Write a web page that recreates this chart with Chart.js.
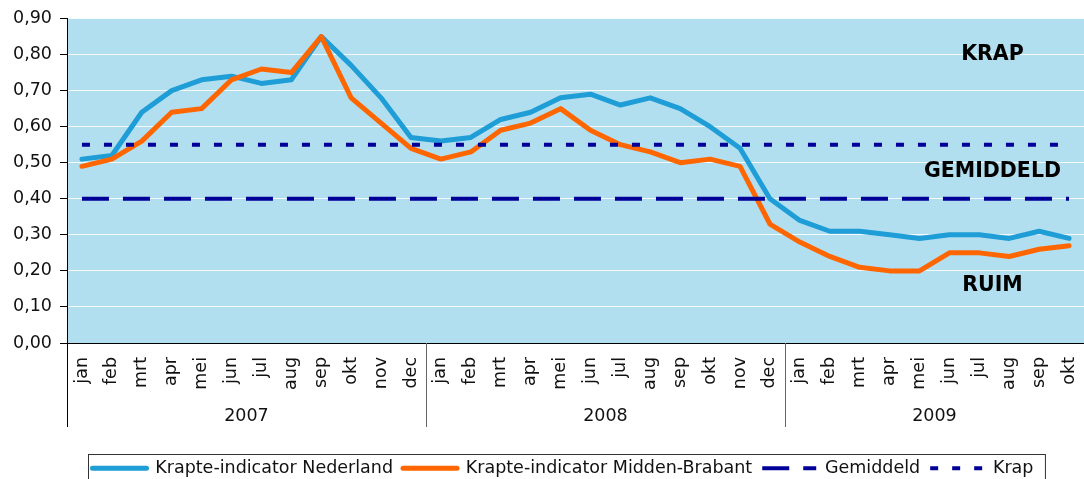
<!DOCTYPE html>
<html>
<head>
<meta charset="utf-8">
<script src="https://cdn.jsdelivr.net/npm/chart.js@4/dist/chart.umd.min.js"></script>
<style>
  html, body { margin: 0; padding: 0; background: #fff; overflow: hidden; }
  #wrap { position: relative; width: 1084px; height: 487px; }
</style>
</head>
<body>
<div id="wrap"><canvas id="chartKrapte" width="1084" height="487"></canvas></div>
<script>
const MAANDEN = [
  'jan', 'feb', 'mrt', 'apr', 'mei', 'jun', 'jul', 'aug', 'sep', 'okt', 'nov', 'dec',
  'jan', 'feb', 'mrt', 'apr', 'mei', 'jun', 'jul', 'aug', 'sep', 'okt', 'nov', 'dec',
  'jan', 'feb', 'mrt', 'apr', 'mei', 'jun', 'jul', 'aug', 'sep', 'okt'
];
const JAREN = ['2007', '2008', '2009'];
const MAANDEN_PER_JAAR = [12, 12, 10];

const NEDERLAND = [
  0.51, 0.52, 0.64, 0.70, 0.73, 0.74, 0.72, 0.73, 0.85, 0.77, 0.68, 0.57,
  0.56, 0.57, 0.62, 0.64, 0.68, 0.69, 0.66, 0.68, 0.65, 0.60, 0.54, 0.40,
  0.34, 0.31, 0.31, 0.30, 0.29, 0.30, 0.30, 0.29, 0.31, 0.29
];
const MIDDEN_BRABANT = [
  0.49, 0.51, 0.56, 0.64, 0.65, 0.73, 0.76, 0.75, 0.85, 0.68, 0.61, 0.54,
  0.51, 0.53, 0.59, 0.61, 0.65, 0.59, 0.55, 0.53, 0.50, 0.51, 0.49, 0.33,
  0.28, 0.24, 0.21, 0.20, 0.20, 0.25, 0.25, 0.24, 0.26, 0.27
];
const GEMIDDELD = 0.40;
const KRAP = 0.55;

const ZONE_LABELS = ['KRAP', 'GEMIDDELD', 'RUIM'];
const ZONE_WAARDEN = [0.80, 0.475, 0.16];

const FONT = '"DejaVu Sans", Verdana, sans-serif';
Chart.defaults.font.family = FONT;
Chart.defaults.font.size = 17.5;
Chart.defaults.color = '#111';

// horizontale lijn van de eerste tot de laatste maand (x = index op de categorie-as)
const referentieLijn = waarde => [
  { x: 0, y: waarde },
  { x: MAANDEN.length - 1, y: waarde }
];

const achtergrond = {
  id: 'achtergrond',
  beforeDraw: chart => {
    const { ctx, chartArea: a } = chart;
    ctx.save();
    ctx.fillStyle = '#b2dff0';
    ctx.fillRect(a.left, a.top, a.right - a.left, a.bottom - a.top);
    ctx.restore();
  }
};

const zones = {
  id: 'zones',
  afterDatasetsDraw: chart => {
    const { ctx, chartArea: a, scales: { y } } = chart;
    ctx.save();
    ctx.font = 'bold 20.5px ' + FONT;
    ctx.fillStyle = '#000';
    ctx.textAlign = 'center';
    ctx.textBaseline = 'middle';
    ZONE_LABELS.forEach((tekst, i) => {
      ctx.fillText(tekst, a.left + (a.right - a.left) * 0.91, y.getPixelForValue(ZONE_WAARDEN[i]));
    });
    ctx.restore();
  }
};

const jaren = {
  id: 'jaren',
  afterDraw: chart => {
    const { ctx, chartArea: a, scales: { x } } = chart;
    const breedte = (a.right - a.left) / MAANDEN.length;
    let start = 0;
    ctx.save();
    ctx.font = '17.5px ' + FONT;
    ctx.fillStyle = '#111';
    ctx.textAlign = 'center';
    ctx.textBaseline = 'middle';
    ctx.lineWidth = 1;
    JAREN.forEach((jaar, i) => {
      const n = MAANDEN_PER_JAAR[i];
      const x0 = x.getPixelForTick(start) - breedte / 2;
      const x1 = x.getPixelForTick(start + n - 1) + breedte / 2;
      const xl = Math.round(x0) + 0.5;
      ctx.strokeStyle = i === 0 ? '#000' : '#666';
      ctx.beginPath();
      ctx.moveTo(xl, a.bottom);
      ctx.lineTo(xl, a.bottom + 84);
      ctx.stroke();
      ctx.fillText(jaar, (x0 + x1) / 2, a.bottom + 73.5);
      start += n;
    });
    ctx.restore();
  }
};

const legendaKader = {
  id: 'legendaKader',
  afterLayout: chart => {
    const lg = chart.legend;
    const pad = lg.options.labels.padding;
    const start = (lg.left + pad + lg.right - lg.lineWidths[0]) / 2;
    const verschuiving = 92.5 - start;
    lg.left += verschuiving;
    lg.right += verschuiving;
  },
  afterDraw: chart => {
    const { ctx } = chart;
    const lg = chart.legend;
    const pad = lg.options.labels.padding;
    const start = (lg.left + pad + lg.right - lg.lineWidths[0]) / 2;
    ctx.save();
    ctx.strokeStyle = '#333';
    ctx.lineWidth = 1;
    ctx.strokeRect(Math.round(start - 4.5) + 0.5, Math.round(lg.top + 4.5) + 0.5, lg.lineWidths[0] - pad + 16, 40);
    ctx.restore();
  }
};

const grafiek = document.getElementById('chartKrapte');
new Chart(grafiek, {
  type: 'line',
  data: {
    labels: MAANDEN,
    datasets: [
      {
        label: 'Krapte-indicator Nederland',
        data: NEDERLAND,
        borderColor: '#1e9dd6',
        backgroundColor: '#1e9dd6',
        borderWidth: 5,
        borderJoinStyle: 'round',
        borderCapStyle: 'round',
        pointRadius: 0,
        order: 2
      },
      {
        label: 'Krapte-indicator Midden-Brabant',
        data: MIDDEN_BRABANT,
        borderColor: '#ff6600',
        backgroundColor: '#ff6600',
        borderWidth: 5,
        borderJoinStyle: 'round',
        borderCapStyle: 'round',
        pointRadius: 0,
        order: 1
      },
      {
        label: 'Gemiddeld',
        data: referentieLijn(GEMIDDELD),
        parsing: false,
        borderColor: '#000099',
        backgroundColor: '#000099',
        borderWidth: 4,
        borderDash: [27, 14],
        borderCapStyle: 'butt',
        pointRadius: 0,
        order: 0
      },
      {
        label: 'Krap',
        data: referentieLijn(KRAP),
        parsing: false,
        borderColor: '#000099',
        backgroundColor: '#000099',
        borderWidth: 4,
        borderDash: [8, 14],
        borderCapStyle: 'butt',
        pointRadius: 0,
        order: 0
      }
    ]
  },
  options: {
    responsive: false,
    animation: false,
    layout: { padding: { top: 6.5, left: 0, right: 0, bottom: 0 } },
    plugins: {
      tooltip: { enabled: false },
      legend: {
        position: 'bottom',
        labels: {
          usePointStyle: true,
          pointStyle: 'line',
          pointStyleWidth: 54,
          padding: 10,
          color: '#111',
          font: { size: 17.5 },
          generateLabels: chart => chart.data.datasets.map((ds, i) => ({
            text: ds.label,
            datasetIndex: i,
            fillStyle: ds.borderColor,
            strokeStyle: ds.borderColor,
            lineWidth: ds.borderWidth,
            lineDash: ds.borderDash || [],
            lineCap: ds.borderCapStyle,
            pointStyle: 'line',
            fontColor: '#111',
            hidden: false
          }))
        }
      }
    },
    scales: {
      x: {
        offset: true,
        grid: { color: 'rgba(0,0,0,0)', drawTicks: false },
        border: { color: '#000', width: 1 },
        ticks: {
          autoSkip: false,
          minRotation: 90,
          maxRotation: 90,
          padding: 14,
          color: '#111'
        },
        afterFit: scale => {
          scale.height = 106.5;
          scale.paddingLeft = 0;
          scale.paddingRight = 0;
        }
      },
      y: {
        min: 0,
        max: 0.9,
        ticks: {
          stepSize: 0.1,
          padding: 8,
          color: '#111',
          callback: v => v.toFixed(2).replace('.', ',')
        },
        grid: { color: 'rgba(255,255,255,0.85)', tickColor: '#000', tickLength: 7 },
        border: { color: '#000' },
        afterFit: scale => { scale.width = 67; }
      }
    }
  },
  plugins: [achtergrond, zones, jaren, legendaKader]
});
</script>
</body>
</html>
